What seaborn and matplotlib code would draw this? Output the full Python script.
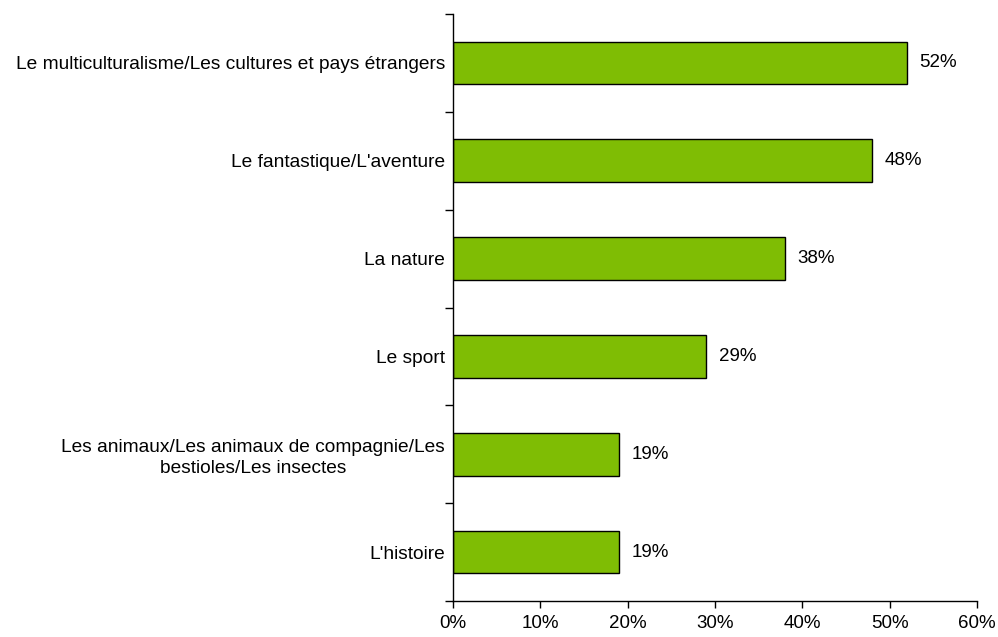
import matplotlib
matplotlib.use("Agg")
import matplotlib.pyplot as plt
import seaborn as sns
import pandas as pd
import numpy as np
from matplotlib.ticker import FixedLocator, FuncFormatter

categories = [
    "Le multiculturalisme/Les cultures et pays étrangers",
    "Le fantastique/L'aventure",
    "La nature",
    "Le sport",
    "Les animaux/Les animaux de compagnie/Les\nbestioles/Les insectes",
    "L'histoire",
]
values = [52, 48, 38, 29, 19, 19]
x_ticks = [0, 10, 20, 30, 40, 50, 60]

FS = 13.5
FS_CAT = 13.8

sns.set_theme(style="white")
plt.rcParams["font.family"] = ["Liberation Sans", "DejaVu Sans"]
plt.rcParams["text.color"] = "black"
plt.rcParams["xtick.color"] = "black"
plt.rcParams["ytick.color"] = "black"

df = pd.DataFrame({"theme": categories, "pct": values})

fig = plt.figure(figsize=(9.98, 6.37), dpi=100)
ax = fig.add_axes([453 / 998, 1 - 601 / 637, (977 - 453) / 998, (601 - 14) / 637])

sns.barplot(data=df, y="theme", x="pct", orient="h", color="#7fbd04",
            edgecolor="black", linewidth=1.0, width=0.436, saturation=1, ax=ax)

for p, v in zip(ax.patches, values):
    ax.annotate(f"{v}%", (p.get_width(), p.get_y() + p.get_height() / 2),
                xytext=(9, 0), textcoords="offset points",
                ha="left", va="center", fontsize=FS, color="black")

ax.set_xlim(0, 60)
ax.set_ylim(len(categories) - 0.5, -0.5)
ax.set_xticks(x_ticks)
ax.xaxis.set_major_formatter(FuncFormatter(lambda v, _: f"{v:.0f}%"))
ax.set_xlabel("")
ax.set_ylabel("")

ax.yaxis.set_minor_locator(FixedLocator(np.arange(-0.5, len(categories), 1.0)))
ax.tick_params(axis="y", which="major", length=0, pad=8, labelsize=FS_CAT, labelcolor="black")
ax.tick_params(axis="y", which="minor", length=6, width=1, color="black", left=True, direction="out")
ax.tick_params(axis="x", which="major", length=5, width=1, color="black", bottom=True,
               direction="out", labelsize=FS, labelcolor="black", pad=5)
for lbl in ax.get_yticklabels():
    lbl.set_horizontalalignment("center")
    lbl.set_multialignment("center")
    lbl.set_linespacing(1.3)

sns.despine(ax=ax, top=True, right=True)
for s in ("left", "bottom"):
    ax.spines[s].set_color("black")
    ax.spines[s].set_linewidth(1.0)
ax.grid(False)

# center each category label on its own width, right edge just left of the axis
fig.canvas.draw()
renderer = fig.canvas.get_renderer()
for lbl in ax.get_yticklabels():
    w = lbl.get_window_extent(renderer).width
    cx_disp = 453 - 8 - w / 2
    x_ax = ax.transAxes.inverted().transform((cx_disp, 0))[0]
    lbl.set_transform(matplotlib.transforms.blended_transform_factory(ax.transAxes, ax.transData))
    lbl.set_x(x_ax)

fig.savefig("out.png", dpi=100)
